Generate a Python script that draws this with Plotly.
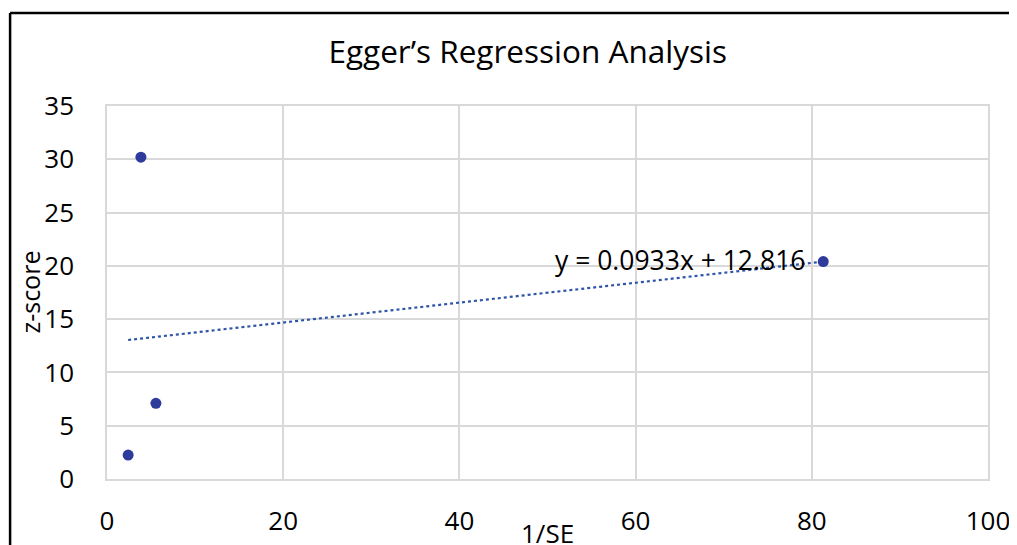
import plotly.graph_objects as go

# Data
inv_se = [2.4, 3.85, 5.55, 81.3]
z_score = [2.25, 30.2, 7.1, 20.4]
slope = 0.0933
intercept = 12.816
equation_label = "y = 0.0933x + 12.816"
x_ticks = [0, 20, 40, 60, 80, 100]
y_ticks = [0, 5, 10, 15, 20, 25, 30, 35]

FONT = "Open Sans"
marker_color = "#2E3A9C"
trend_color = "#2F55A8"

x_lo, x_hi = min(inv_se), max(inv_se)
trend_x = [x_lo, x_hi]
trend_y = [slope * v + intercept for v in trend_x]

fig = go.Figure()
fig.add_trace(go.Scatter(
    x=trend_x, y=trend_y, mode="lines",
    line=dict(color=trend_color, width=2.2, dash="dot"),
    hoverinfo="skip", showlegend=False,
))
fig.add_trace(go.Scatter(
    x=inv_se, y=z_score, mode="markers",
    marker=dict(color=marker_color, size=11),
    showlegend=False,
))

fig.add_annotation(
    x=x_hi, y=slope * x_hi + intercept, xref="x", yref="y",
    text=equation_label, showarrow=False,
    xanchor="right", yanchor="middle", xshift=-16, yshift=2,
    font=dict(family=FONT, size=26.5, color="#000000"),
)

# Axis titles
fig.add_annotation(
    x=0.5, y=-0.146, xref="paper", yref="paper", text="1/SE", showarrow=False,
    xanchor="center", yanchor="middle",
    font=dict(family=FONT, size=26, color="#000000"),
)
fig.add_annotation(
    x=-0.0885, y=0.5, xref="paper", yref="paper", text="z-score", showarrow=False,
    xanchor="center", yanchor="middle", textangle=-90,
    font=dict(family=FONT, size=25, color="#000000"),
)

grid = "#D9D9D9"
fig.update_xaxes(
    range=[0, 100], tickvals=x_ticks, showgrid=True, gridcolor=grid, gridwidth=1.5,
    zeroline=False, showline=True, linecolor=grid, linewidth=1.5, mirror=True,
    ticks="", ticklabelstandoff=18, automargin=False,
    tickfont=dict(family=FONT, size=26, color="#000000"),
)
fig.update_yaxes(
    range=[0, 35], tickvals=y_ticks, showgrid=True, gridcolor=grid, gridwidth=1.5,
    zeroline=False, showline=True, linecolor=grid, linewidth=1.5, mirror=True,
    ticks="", ticklabelstandoff=26, automargin=False,
    tickfont=dict(family=FONT, size=26, color="#000000"),
)

# Outer chart border (left and top edges visible)
fig.add_shape(type="line", xref="paper", yref="paper",
              x0=-0.110, x1=1.5, y0=1.249, y1=1.249,
              line=dict(color="#000000", width=2.5))
fig.add_shape(type="line", xref="paper", yref="paper",
              x0=-0.110, x1=-0.110, y0=-0.5, y1=1.249,
              line=dict(color="#000000", width=2.5))

# The page body adds an 8px offset, so margins are reduced accordingly
fig.update_layout(
    width=1017, height=545,
    margin=dict(l=99, r=37, t=98, b=74, autoexpand=False),
    paper_bgcolor="#FFFFFF", plot_bgcolor="#FFFFFF",
    title=dict(text="Egger’s Regression Analysis", x=0.511, xanchor="center",
               y=0.92, yanchor="middle", automargin=False,
               font=dict(family=FONT, size=31.5, color="#000000")),
    font=dict(family=FONT),
)

fig.write_html("out.html")
